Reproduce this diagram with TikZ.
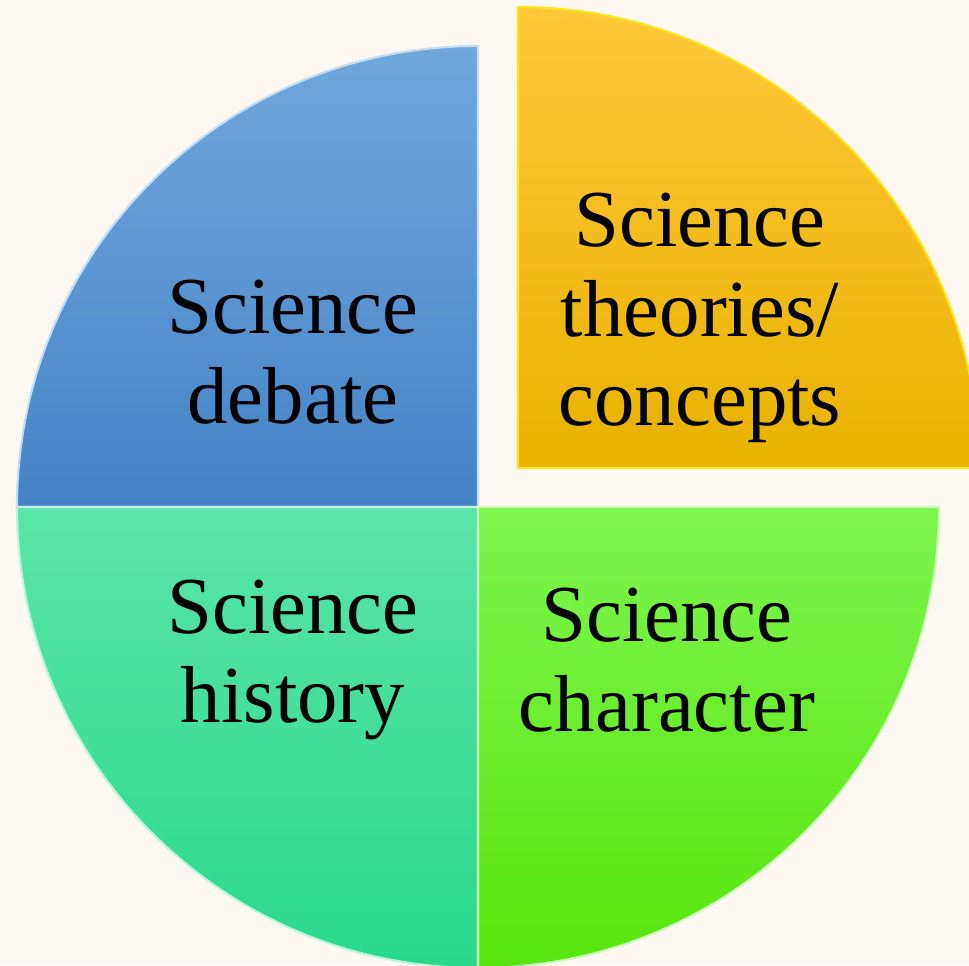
\documentclass[tikz,border=0pt]{standalone}
\usepackage{fontspec}
\setmainfont{Liberation Serif}
\definecolor{paper}{HTML}{FDF9F2}
\definecolor{debateTop}{HTML}{6FA8DC}
\definecolor{debateBot}{HTML}{4583C6}
\definecolor{theoryTop}{HTML}{FFC83A}
\definecolor{theoryBot}{HTML}{E8B200}
\definecolor{historyTop}{HTML}{5AE4AA}
\definecolor{historyBot}{HTML}{2BD88E}
\definecolor{charTop}{HTML}{7DF54E}
\definecolor{charBot}{HTML}{58E50E}
\tikzset{
  sector/.style={draw=white, line width=1.2pt},
  quad/.style={align=center, font=\fontsize{46}{51}\selectfont, text=black}
}
\begin{document}
\begin{tikzpicture}[x=0.02cm, y=0.02cm]
    \useasboundingbox (0,0) rectangle (969,965);
    \fill[paper] (0,0) rectangle (969,965);
    \clip (0,0) rectangle (969,965);

    % Sectors
    \coordinate (C) at (478,458);
    \coordinate (Y) at (518,497);
    \shade[top color=debateTop, bottom color=debateBot] (C) -- ++(0,461) arc[start angle=90, end angle=180, radius=461] -- cycle;
    \shade[top color=theoryTop, bottom color=theoryBot] (Y) -- ++(461,0) arc[start angle=0, end angle=90, radius=461] -- cycle;
    \shade[top color=historyTop, bottom color=historyBot] (C) -- ++(-461,0) arc[start angle=180, end angle=270, radius=461] -- cycle;
    \shade[top color=charTop, bottom color=charBot] (C) -- ++(0,-461) arc[start angle=270, end angle=360, radius=461] -- cycle;

    % Edges
    \draw[sector, draw=debateTop!40!white] (C) -- ++(0,461) arc[start angle=90, end angle=180, radius=461] -- cycle;
    \draw[sector, draw=theoryTop!50!yellow] (Y) -- ++(461,0) arc[start angle=0, end angle=90, radius=461] -- cycle;
    \draw[sector, draw=historyTop!40!white] (C) -- ++(-461,0) arc[start angle=180, end angle=270, radius=461] -- cycle;
    \draw[sector, draw=charTop!40!white] (C) -- ++(0,-461) arc[start angle=270, end angle=360, radius=461] -- cycle;

    % Nodes
    \node[quad] at (293,613) (debate) {Science\\debate};
    \node[quad] at (700,647) (theories) {Science\\theories/\\concepts};
    \node[quad] at (293,305) (history) {Science\\history};
    \node[quad] at (667,305) (character) {Science\\character};
\end{tikzpicture}
\end{document}
